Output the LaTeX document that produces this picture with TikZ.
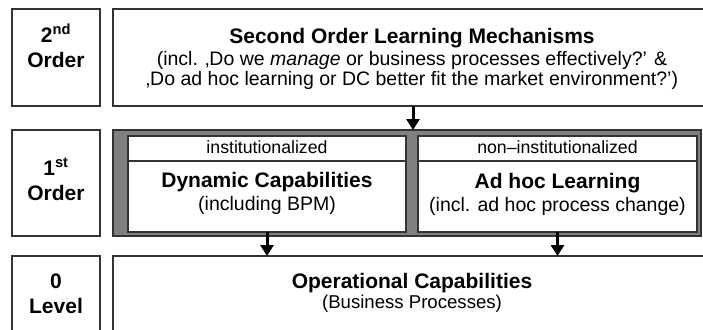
\documentclass[tikz,border=0pt]{standalone}
\usepackage{fontspec}
\setmainfont{Liberation Sans}
\usetikzlibrary{arrows.meta}
\definecolor{frame}{HTML}{333333}
\definecolor{band}{HTML}{808080}
\begin{document}
\begin{tikzpicture}[x=1pt,y=-1pt,
  box/.style={draw=frame,line width=1.2pt,fill=white,inner sep=0pt,outer sep=0pt},
  bandbox/.style={draw=frame,line width=1.2pt,fill=band,inner sep=0pt,outer sep=0pt},
  hd/.style={font=\fontsize{21}{25}\selectfont\bfseries,anchor=base,inner sep=0pt},
  sub/.style={font=\fontsize{19.5}{23}\selectfont,anchor=base,inner sep=0pt},
  tag/.style={font=\fontsize{17.7}{21}\selectfont,anchor=base,inner sep=0pt},
  arr/.style={line width=3pt,draw=black,-{Triangle[width=13pt,length=11pt]}}]
\useasboundingbox (0,0) rectangle (703,329);
\clip (0,0) rectangle (703,329);
% left level boxes
\node[box,minimum width=88pt,minimum height=97pt] (l2) at (56,57.5) {};
\node[box,minimum width=88pt,minimum height=106pt] (l1) at (56,183) {};
\node[box,minimum width=88pt,minimum height=90pt] (l0) at (56,301) {};
\node[hd] (l2a) at (56,42) {2\textsuperscript{nd}};
\node[hd] (l2b) at (56,67) {Order};
\node[hd] (l1a) at (56,175) {1\textsuperscript{st}};
\node[hd] (l1b) at (56,200) {Order};
\node[hd] (l0a) at (56,288) {0};
\node[hd] (l0b) at (56,313) {Level};
% top box
\node[box,minimum width=600pt,minimum height=97pt] (top) at (413,57.5) {};
\node[hd] (t1) at (412,44) {Second Order Learning Mechanisms};
\node[sub] (t2) at (412,65) {(incl. ‚Do we \textit{manage} or business processes effectively?’ \&};
\node[sub] (t3) at (412,85) {‚Do ad hoc learning or DC better fit the market environment?’)};
% gray band
\node[bandbox,minimum width=588pt,minimum height=106pt] (band) at (407,183) {};
\node[box,minimum width=278pt,minimum height=96pt] (dc) at (267,184) {};
\node[box,minimum width=278pt,minimum height=25pt] (dch) at (267,148.5) {};
\node[box,minimum width=279pt,minimum height=96pt] (ah) at (557.5,184) {};
\node[box,minimum width=279pt,minimum height=25pt] (ahh) at (557.5,148.5) {};
\node[tag] (dct) at (267,153) {institutionalized};
\node[tag] (aht) at (557.5,153) {non–institutionalized};
\node[hd] (dc1) at (267,187) {Dynamic Capabilities};
\node[sub] (dc2) at (267,210) {(including BPM)};
\node[hd] (ah1) at (557.5,188) {Ad hoc Learning};
\node[sub] (ah2) at (557.5,211) {(incl. ad hoc process change)};
% bottom box
\node[box,minimum width=600pt,minimum height=90pt] (bot) at (413,301) {};
\node[hd] (b1) at (412,288) {Operational Capabilities};
\node[sub,font=\fontsize{18.6}{22}\selectfont] (b2) at (412,308) {(Business Processes)};
% arrows
\draw[arr] (top.south) -- (top.south |- band.north);
\draw[arr] (dc.south) -- (dc.south |- bot.north);
\draw[arr] (ah.south) -- (ah.south |- bot.north);
\end{tikzpicture}
\end{document}
